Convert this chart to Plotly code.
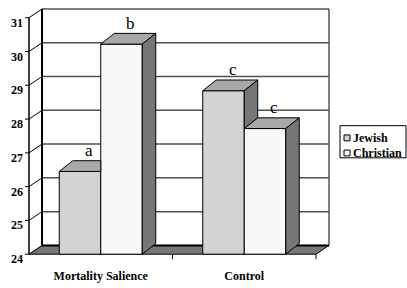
import plotly.graph_objects as go

# ---------------- data ----------------
categories = ["Mortality Salience", "Control"]
series_names = ["Jewish", "Christian"]
jewish = [26.45, 28.84]
christian = [30.22, 27.72]
sig_jewish = ["a", "c"]
sig_christian = ["b", "c"]
y_ticks = [24, 25, 26, 27, 28, 29, 30, 31]

# ---------------- styling / geometry ----------------
W, H = 407, 288
FONT = "Liberation Serif"
FRONT_L, FRONT_B = 29, 261          # pixel of front-plane origin
PX_CAT, PX_UNIT = 143.5, 34.7       # pixels per category / per value unit
WALL_DX, WALL_DY = 13, 9            # depth of walls (px)
BAR_DX, BAR_DY = 13.5, 11           # depth of bars (px)
PLOT_L, PLOT_R, PLOT_T, PLOT_B = 20, 334, 5, 268
BAR_W_PX = 41.5

JEW_FRONT = "#d3d3d3"
CHR_FRONT = "#f8f8f8"
TOP_COL = "#a8a8a8"
SIDE_COL = "#767676"
FLOOR_COL = "#777777"
GRID_COL = "#505050"

x_range = [-0.5 - (FRONT_L - PLOT_L) / PX_CAT, -0.5 + (PLOT_R - FRONT_L) / PX_CAT]
y_range = [y_ticks[0] - (PLOT_B - FRONT_B) / PX_UNIT, y_ticks[0] + (FRONT_B - PLOT_T) / PX_UNIT]
wdx, wdy = WALL_DX / PX_CAT, WALL_DY / PX_UNIT
bdx, bdy = BAR_DX / PX_CAT, BAR_DY / PX_UNIT
bw = BAR_W_PX / PX_CAT
ymin, ymax = y_ticks[0], y_ticks[-1]
xl0, xr0 = -0.5, len(categories) - 0.5


def px_x(px):
    return (px - PLOT_L) / (PLOT_R - PLOT_L)


def px_y(py):
    return (PLOT_B - py) / (PLOT_B - PLOT_T)


def poly(pts):
    return "M " + " L ".join(f"{x},{y}" for x, y in pts) + " Z"


shapes = []
# floor
shapes.append(dict(type="path", layer="below",
                   path=poly([(xl0, ymin), (xl0 + wdx, ymin + wdy), (xr0 + wdx, ymin + wdy), (xr0, ymin)]),
                   fillcolor=FLOOR_COL, line=dict(color="black", width=1)))
# back wall
shapes.append(dict(type="rect", layer="below", x0=xl0 + wdx, x1=xr0 + wdx, y0=ymin + wdy, y1=ymax + wdy,
                   fillcolor="white", line=dict(color="black", width=1)))
# left wall
shapes.append(dict(type="path", layer="below",
                   path=poly([(xl0, ymin), (xl0, ymax), (xl0 + wdx, ymax + wdy), (xl0 + wdx, ymin + wdy)]),
                   fillcolor="white", line=dict(color="black", width=1)))
# gridlines on back wall and left wall
for v in y_ticks[1:-1]:
    shapes.append(dict(type="line", layer="below", x0=xl0 + wdx, x1=xr0 + wdx, y0=v + wdy, y1=v + wdy,
                       line=dict(color=GRID_COL, width=1.5)))
    shapes.append(dict(type="line", layer="below", x0=xl0, x1=xl0 + wdx, y0=v, y1=v + wdy,
                       line=dict(color="black", width=1)))
# thick back edges
shapes.append(dict(type="line", layer="below", x0=xl0 + wdx, x1=xl0 + wdx, y0=ymin + wdy, y1=ymax + wdy,
                   line=dict(color="black", width=2)))
shapes.append(dict(type="line", layer="below", x0=xl0 + wdx, x1=xr0 + wdx, y0=ymin + wdy, y1=ymin + wdy,
                   line=dict(color="black", width=2)))
# front value axis and ticks
shapes.append(dict(type="line", layer="below", x0=xl0, x1=xl0, y0=ymin, y1=ymax,
                   line=dict(color="black", width=1)))
for v in y_ticks:
    shapes.append(dict(type="line", layer="below", xsizemode="pixel", xanchor=xl0, x0=-4, x1=0,
                       y0=v, y1=v, line=dict(color="black", width=1)))
# category ticks
for k in range(len(categories)):
    shapes.append(dict(type="line", layer="below", ysizemode="pixel", yanchor=ymin, y0=0, y1=-5,
                       x0=k + 0.5, x1=k + 0.5, line=dict(color="black", width=1)))

# 3D tops and sides of bars
for i in range(len(categories)):
    vJ, vC = jewish[i], christian[i]
    xl, xm, xr = i - bw, i, i + bw
    if vC >= vJ:
        shapes.append(dict(type="path", layer="above",
                           path=poly([(xl, vJ), (xl + bdx, vJ + bdy), (xm, vJ + bdy), (xm, vJ)]),
                           fillcolor=TOP_COL, line=dict(color="black", width=1)))
    else:
        shapes.append(dict(type="path", layer="above",
                           path=poly([(xl, vJ), (xl + bdx, vJ + bdy), (xm + bdx, vJ + bdy), (xm, vJ)]),
                           fillcolor=TOP_COL, line=dict(color="black", width=1)))
        shapes.append(dict(type="path", layer="above",
                           path=poly([(xm, vJ), (xm + bdx, vJ + bdy), (xm + bdx, vC + bdy), (xm, vC)]),
                           fillcolor=SIDE_COL, line=dict(color="black", width=1)))
    shapes.append(dict(type="path", layer="above",
                       path=poly([(xm, vC), (xm + bdx, vC + bdy), (xr + bdx, vC + bdy), (xr, vC)]),
                       fillcolor=TOP_COL, line=dict(color="black", width=1)))
    shapes.append(dict(type="path", layer="above",
                       path=poly([(xr, vC), (xr + bdx, vC + bdy), (xr + bdx, ymin + bdy), (xr, ymin)]),
                       fillcolor=SIDE_COL, line=dict(color="black", width=1)))

# manual legend
LEG = dict(x0=340, x1=406, y0=129, y1=162)
shapes.append(dict(type="rect", xref="paper", yref="paper", layer="above",
                   x0=px_x(LEG["x0"]), x1=px_x(LEG["x1"]), y0=px_y(LEG["y1"]), y1=px_y(LEG["y0"]),
                   fillcolor="white", line=dict(color="black", width=1)))
annotations = []
for name, col, cy in zip(series_names, [JEW_FRONT, CHR_FRONT], [141.5, 157.0]):
    shapes.append(dict(type="rect", xref="paper", yref="paper", layer="above",
                       x0=px_x(344), x1=px_x(350), y0=px_y(cy + 3), y1=px_y(cy - 3),
                       fillcolor=col, line=dict(color="black", width=1)))
    annotations.append(dict(xref="paper", yref="paper", x=px_x(351), y=px_y(cy), text=f"<b>{name}</b>",
                            xanchor="left", yanchor="middle", showarrow=False,
                            font=dict(family=FONT, size=12, color="black")))

# value axis labels
for v in y_ticks:
    annotations.append(dict(x=xl0, y=v, xref="x", yref="y", text=f"<b>{v}</b>", showarrow=False,
                            xanchor="right", yanchor="middle", xshift=-4, yshift=-5,
                            font=dict(family=FONT, size=12, color="black")))
# significance letters
for i in range(len(categories)):
    for val, lab, off in [(jewish[i], sig_jewish[i], -bw / 2), (christian[i], sig_christian[i], bw / 2)]:
        annotations.append(dict(x=i + off, y=val, xref="x", yref="y", text=lab, showarrow=False,
                                xanchor="center", yanchor="middle", xshift=9, yshift=21,
                                font=dict(family=FONT, size=17, color="black")))

fig = go.Figure()
fig.add_trace(go.Bar(name=series_names[0], x=list(range(len(categories))), y=[v - ymin for v in jewish],
                     base=ymin, width=bw, offset=-bw, marker=dict(color=JEW_FRONT, line=dict(color="black", width=1)),
                     customdata=jewish, hovertemplate="%{customdata}<extra>Jewish</extra>", showlegend=False))
fig.add_trace(go.Bar(name=series_names[1], x=list(range(len(categories))), y=[v - ymin for v in christian],
                     base=ymin, width=bw, offset=0, marker=dict(color=CHR_FRONT, line=dict(color="black", width=1)),
                     customdata=christian, hovertemplate="%{customdata}<extra>Christian</extra>", showlegend=False))

fig.update_layout(
    width=W, height=H, barmode="overlay",
    margin=dict(l=PLOT_L, r=W - PLOT_R, t=PLOT_T, b=H - PLOT_B, pad=0),
    paper_bgcolor="white", plot_bgcolor="white",
    shapes=shapes, annotations=annotations, showlegend=False,
    xaxis=dict(range=x_range, showgrid=False, zeroline=False, showline=False,
               ticks="outside", ticklen=4, tickcolor="rgba(0,0,0,0)",
               tickmode="array", tickvals=list(range(len(categories))), ticktext=[f"<b>{c}</b>" for c in categories],
               tickfont=dict(family=FONT, size=12, color="black")),
    yaxis=dict(range=y_range, showgrid=False, zeroline=False, showline=False, showticklabels=False, ticks=""),
)
fig.write_html("out.html", config={"displayModeBar": False},
               post_script="document.body.style.margin='0';document.body.style.overflow='hidden';")
